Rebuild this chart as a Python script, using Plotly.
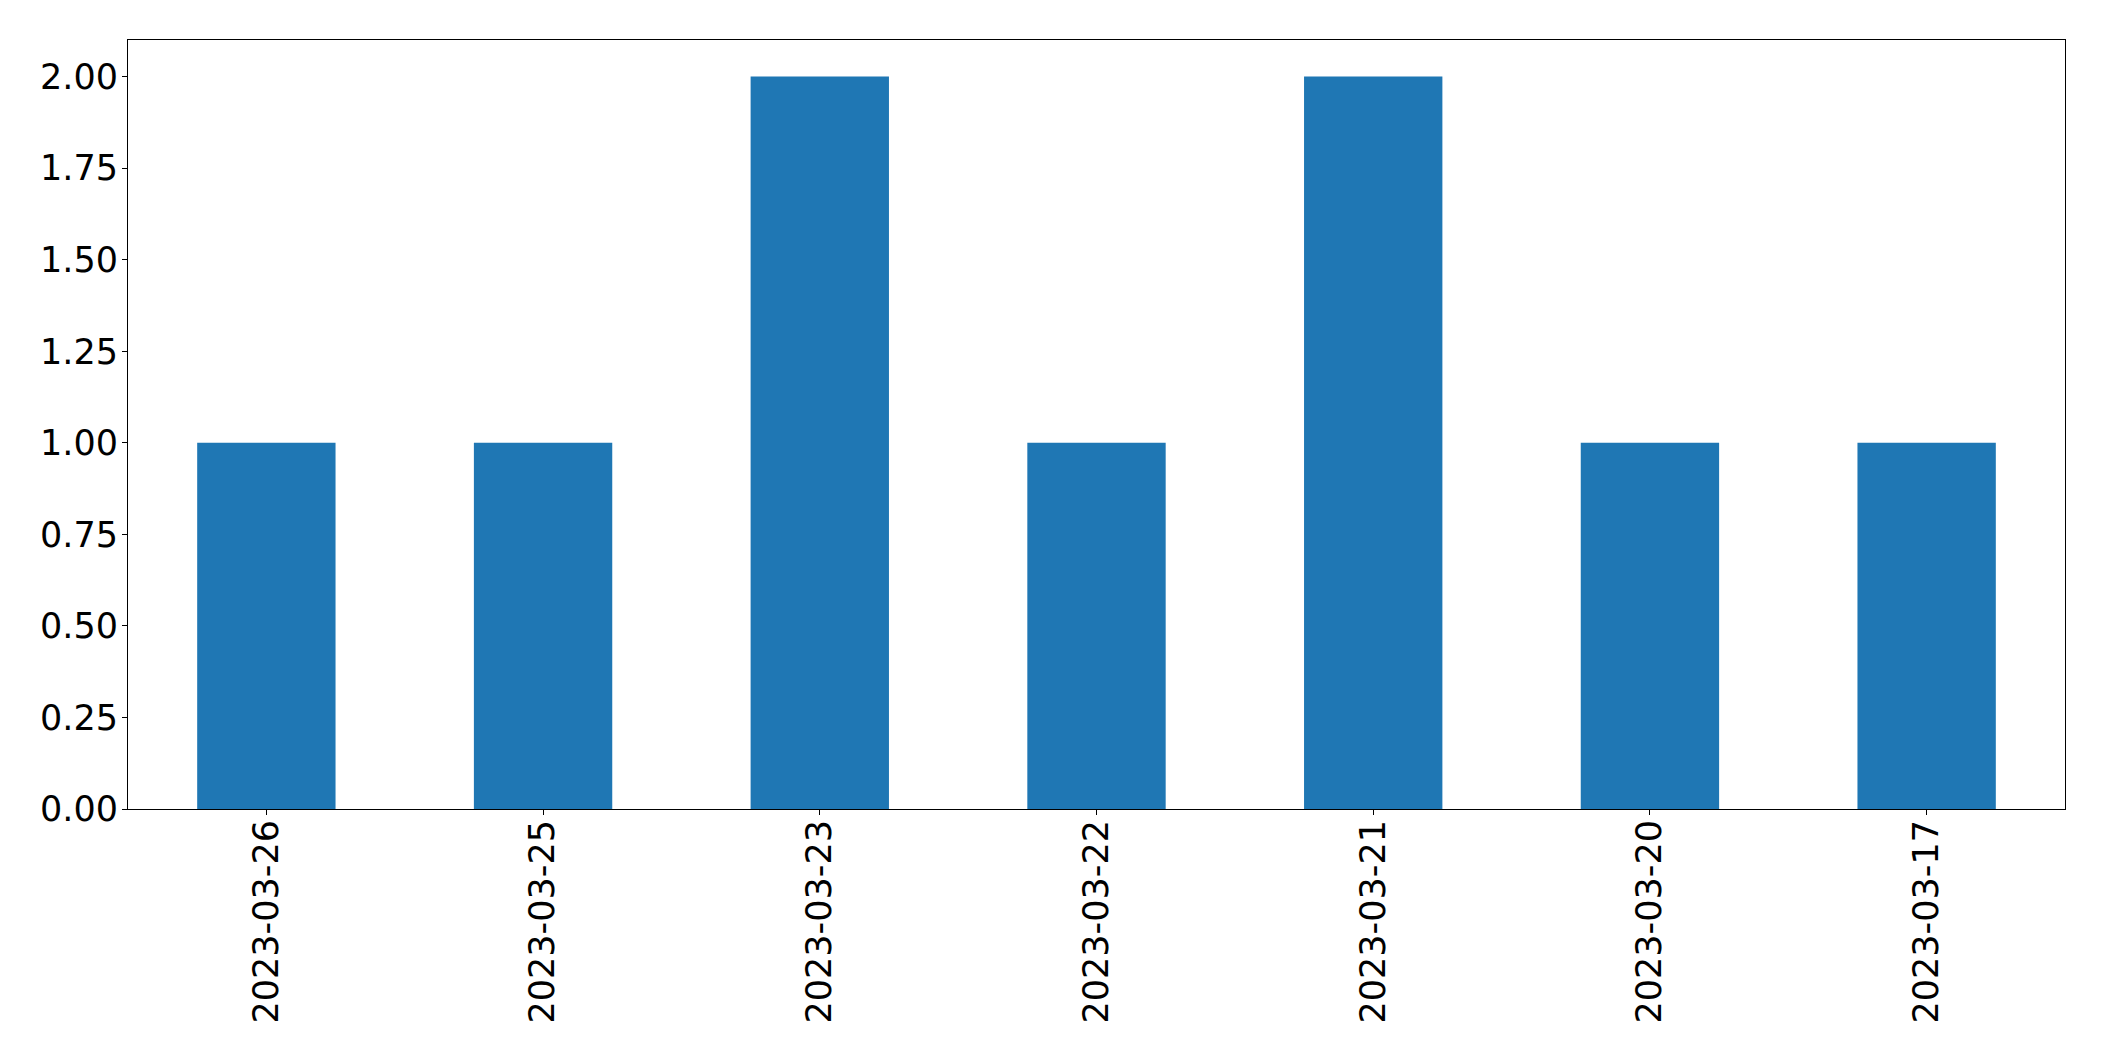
import plotly.graph_objects as go

categories = ["2023-03-26", "2023-03-25", "2023-03-23", "2023-03-22", "2023-03-21", "2023-03-20", "2023-03-17"]
values = [1, 1, 2, 1, 2, 1, 1]
y_ticks = [0, 0.25, 0.5, 0.75, 1.0, 1.25, 1.5, 1.75, 2.0]
y_tick_labels = ["0.00", "0.25", "0.50", "0.75", "1.00", "1.25", "1.50", "1.75", "2.00"]

fig = go.Figure(go.Bar(x=categories, y=values, marker_color="#1f77b4", marker_line_width=0, width=0.5))

# page body has an 8px margin, so compensate
W, H = 2096, 1053
fig.update_layout(
    width=W, height=H,
    margin=dict(l=120, r=39, t=32, b=252, pad=0),
    paper_bgcolor="white", plot_bgcolor="white",
    font=dict(family="DejaVu Sans", size=35, color="black"),
    showlegend=False,
    bargap=0.5,
)
fig.update_xaxes(
    type="category", range=[-0.5, 6.5],
    showline=True, linecolor="black", linewidth=1.1, mirror=True,
    ticks="outside", ticklen=5, tickwidth=1.1, tickcolor="black",
    tickangle=-90, showgrid=False, zeroline=False,
    ticklabelstandoff=-9,
)
fig.update_yaxes(
    range=[0, 2.1],
    tickvals=y_ticks, ticktext=y_tick_labels,
    showline=True, linecolor="black", linewidth=1.1, mirror=True,
    ticks="outside", ticklen=5, tickwidth=1.1, tickcolor="black",
    showgrid=False, zeroline=False,
    ticklabelstandoff=-3,
)

fig.write_html("out.html")
